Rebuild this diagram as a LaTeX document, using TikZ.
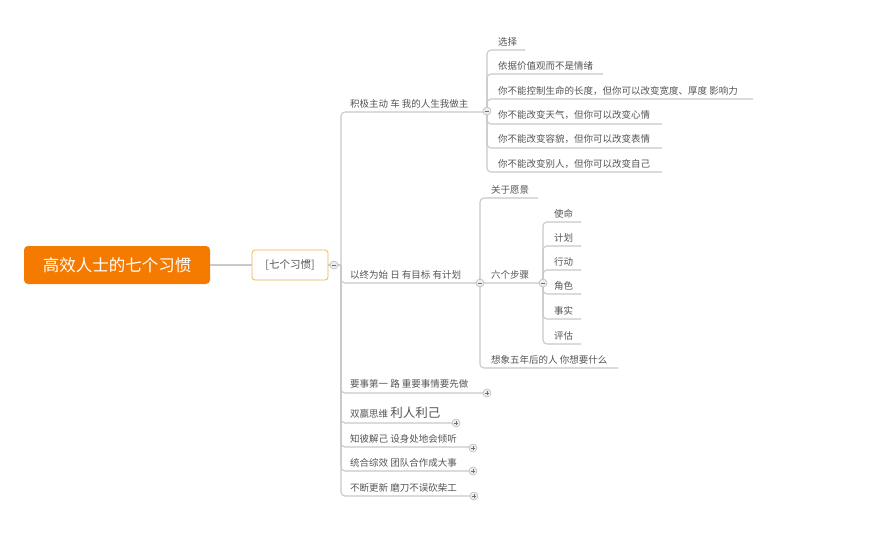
\documentclass[tikz,border=0pt]{standalone}
\usepackage{fontspec}
\newfontfamily\cjk{Noto Sans CJK SC}
\definecolor{orng}{HTML}{F57B00}
\definecolor{subb}{HTML}{F3B257}
\definecolor{txt}{HTML}{555555}
\definecolor{ln}{HTML}{C9C9C9}
\definecolor{tgb}{HTML}{BDBDBD}
\definecolor{tgf}{HTML}{EDEDED}
\definecolor{tgs}{HTML}{6E6E6E}
\tikzset{
  t/.style={font=\cjk\fontsize{9.5}{11}\selectfont, text=txt, inner sep=0pt, anchor=base west},
  conn/.style={draw=ln, line width=1.1pt, rounded corners=4pt},
  tog/.style={circle, draw=tgb, fill=tgf, minimum size=8pt, inner sep=0pt, line width=0.6pt},
  tgm/.style={tog, path picture={\draw[tgs,line width=0.9pt] ([xshift=-2pt]path picture bounding box.center) -- ([xshift=2pt]path picture bounding box.center);}},
  tgp/.style={tog, path picture={\draw[tgs,line width=0.9pt] ([xshift=-2pt]path picture bounding box.center) -- ([xshift=2pt]path picture bounding box.center) ([yshift=-2pt]path picture bounding box.center) -- ([yshift=2pt]path picture bounding box.center);}},
}
\begin{document}
\begin{tikzpicture}[x=1pt,y=-1pt]
\useasboundingbox[fill=white] (0,0) rectangle (890,539);
% root and sub
\node[fill=orng, rounded corners=4pt, minimum width=186pt, minimum height=38pt, text=white, font=\cjk\fontsize{16.5}{18}\selectfont] (root) at (117,265) {高效人士的七个习惯};
\node[draw=subb, fill=white, line width=0.8pt, rounded corners=3pt, minimum width=76pt, minimum height=30pt, text=txt, font=\cjk\fontsize{10.5}{12}\selectfont] (sub) at (290,265) {[七个习惯]};
\coordinate (tr) at (341,265);
\draw[conn] (root.east) -- (sub.west);
\draw[conn] (sub.east) -- (tr);

% level 2 texts
\node[t] (b1) at (350,107) {积极主动 车 我的人生我做主};
\node[t] (b2) at (350,278) {以终为始 日 有目标 有计划};
\node[t] (b3) at (350,387) {要事第一 路 重要事情要先做};
\node[t] (b4) at (350,417) {双赢思维 {\fontsize{12.5}{14}\selectfont 利人利己}};
\node[t] (b5) at (350,442) {知彼解己 设身处地会倾听};
\node[t] (b6) at (350,466) {统合综效 团队合作成大事};
\node[t] (b7) at (350,491) {不断更新 磨刀不误砍柴工};
\coordinate (b1e) at (487,112);
\coordinate (b2e) at (480,283);
\coordinate (b3e) at (487,393);
\coordinate (b4e) at (456,423);
\coordinate (b5e) at (473,447);
\coordinate (b6e) at (473,471);
\coordinate (b7e) at (474,496);
\foreach \e in {b1e,b2e,b3e,b4e,b5e,b6e,b7e}{\draw[conn] (tr) |- (\e);}

% branch 1 children
\node[t] (a1) at (498,45) {选择};
\node[t] (a2) at (498,69) {依据价值观而不是情绪};
\node[t] (a3) at (498,94) {你不能控制生命的长度，但你可以改变宽度、厚度 影响力};
\node[t] (a4) at (498,118) {你不能改变天气，但你可以改变心情};
\node[t] (a5) at (498,142) {你不能改变容貌，但你可以改变表情};
\node[t] (a6) at (498,167) {你不能改变别人，但你可以改变自己};
\coordinate (a1e) at (525,50);
\coordinate (a2e) at (603,74);
\coordinate (a3e) at (753,99);
\coordinate (a4e) at (662,124);
\coordinate (a5e) at (662,148);
\coordinate (a6e) at (662,172);
\foreach \e in {a1e,a2e,a3e,a4e,a5e,a6e}{\draw[conn] (b1e) |- (\e);}

% branch 2 children
\node[t] (s1) at (491,193) {关于愿景};
\node[t] (s2) at (491,278) {六个步骤};
\node[t] (s3) at (491,363) {想象五年后的人 你想要什么};
\coordinate (s1e) at (538,198);
\coordinate (s2e) at (543,283);
\coordinate (s3e) at (618,368);
\foreach \e in {s1e,s2e,s3e}{\draw[conn] (b2e) |- (\e);}

% six steps children
\node[t] (p1) at (554,217) {使命};
\node[t] (p2) at (554,241) {计划};
\node[t] (p3) at (554,265) {行动};
\node[t] (p4) at (554,289) {角色};
\node[t] (p5) at (554,314) {事实};
\node[t] (p6) at (554,339) {评估};
\coordinate (p1e) at (581,222);
\coordinate (p2e) at (581,246);
\coordinate (p3e) at (581,270);
\coordinate (p4e) at (581,294);
\coordinate (p5e) at (581,319);
\coordinate (p6e) at (581,344);
\foreach \e in {p1e,p2e,p3e,p4e,p5e,p6e}{\draw[conn] (s2e) |- (\e);}

% toggles
\node[tgm] (g0) at (334,265) {};
\node[tgm] (g1) at (487,111) {};
\node[tgm] (g2) at (480,283) {};
\node[tgm] (g3) at (543,283) {};
\node[tgp] (g4) at (487,393) {};
\node[tgp] (g5) at (456,423) {};
\node[tgp] (g6) at (473,448) {};
\node[tgp] (g7) at (473,471) {};
\node[tgp] (g8) at (474,496) {};
\end{tikzpicture}
\end{document}
